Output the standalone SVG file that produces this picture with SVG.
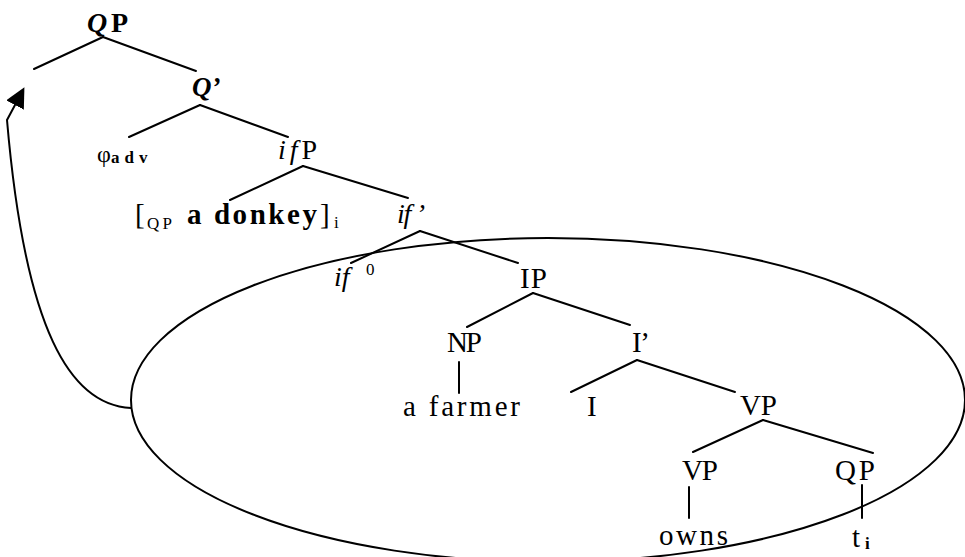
<svg xmlns="http://www.w3.org/2000/svg" width="965" height="557" viewBox="0 0 965 557">
<style>
text { font-family: "Liberation Serif", "Times New Roman", serif; fill: #000; }
.n { font-size: 29px; }
.it { font-style: italic; }
.b { font-weight: bold; }
.sub { font-size: 17px; }
.e { stroke: #000; stroke-width: 2; fill: none; stroke-linecap: round; }
</style>
<defs>
<marker id="ah" viewBox="0 0 20 20" refX="0" refY="10" markerWidth="20" markerHeight="20" markerUnits="userSpaceOnUse" orient="auto">
<path d="M0,0 L20,10 L0,20 z" fill="#000"/>
</marker>
</defs>
<rect width="965" height="557" fill="#fff"/>
<g id="connectors">
<line class="e" x1="103" y1="37" x2="34" y2="69"/>
<line class="e" x1="103" y1="37" x2="196" y2="71"/>
<line class="e" x1="200" y1="105" x2="129" y2="137"/>
<line class="e" x1="200" y1="105" x2="288" y2="137"/>
<line class="e" x1="303" y1="166" x2="230" y2="200"/>
<line class="e" x1="303" y1="166" x2="408" y2="198"/>
<line class="e" x1="420" y1="231" x2="351" y2="263"/>
<line class="e" x1="420" y1="231" x2="518" y2="263"/>
<line class="e" x1="533" y1="293" x2="467" y2="327"/>
<line class="e" x1="533" y1="293" x2="630" y2="325"/>
<line class="e" x1="459" y1="362" x2="459" y2="393"/>
<line class="e" x1="637" y1="360" x2="571" y2="392"/>
<line class="e" x1="637" y1="360" x2="735" y2="392"/>
<line class="e" x1="763" y1="420" x2="693" y2="452"/>
<line class="e" x1="763" y1="420" x2="873" y2="453"/>
<line class="e" x1="689" y1="487" x2="689" y2="518"/>
<line class="e" x1="862" y1="485" x2="862" y2="518"/>
<ellipse class="e" cx="548" cy="400" rx="417" ry="162"/>
<path class="e" d="M131,408 C70,405 25,330 7,120 L15,105" marker-end="url(#ah)"/>
</g>
<g id="n-QP-top"><text x="87" y="32" font-size="28" class="b" textLength="41"><tspan class="it">Q</tspan>P</text></g>
<g id="n-Qbar"><text x="192" y="96" font-size="27" class="b it">Q’</text></g>
<g id="n-phi"><text x="97" y="162" font-size="24">φ</text><text x="111" y="163" font-size="17" class="b" letter-spacing="5">adv</text></g>
<g id="n-ifP"><text x="278" y="159" font-size="28" textLength="39"><tspan class="it">if</tspan>P</text></g>
<g id="n-donkey">
<text x="135" y="224" class="n">[</text>
<text x="147" y="229" class="sub" textLength="25">QP</text>
<text x="187" y="224" class="n b" textLength="130">a donkey</text>
<text x="320" y="224" class="n">]</text>
<text x="334" y="228" class="sub">i</text>
</g>
<g id="n-ifbar"><text x="397" y="223" font-size="28" class="it" textLength="28">if ’</text></g>
<g id="n-if0"><text x="334" y="286" font-size="28" class="it">if</text><text x="366" y="275" font-size="17">0</text></g>
<g id="n-IP"><text x="520" y="288" class="n" textLength="27">IP</text></g>
<g id="n-NP"><text x="447" y="352" class="n" textLength="35">NP</text></g>
<g id="n-Ibar"><text x="632" y="352" class="n" textLength="18">I’</text></g>
<g id="n-farmer"><text x="403" y="416" class="n" textLength="117">a farmer</text></g>
<g id="n-I"><text x="587" y="416" class="n">I</text></g>
<g id="n-VP-up"><text x="740" y="415" class="n" textLength="37">VP</text></g>
<g id="n-VP-low"><text x="682" y="480" class="n" textLength="36">VP</text></g>
<g id="n-QP-low"><text x="835" y="480" class="n" textLength="40">QP</text></g>
<g id="n-owns"><text x="659" y="545" class="n" textLength="69">owns</text></g>
<g id="n-trace"><text x="852" y="547" class="n">t</text><text x="865" y="549" class="sub b">i</text></g>
</svg>
